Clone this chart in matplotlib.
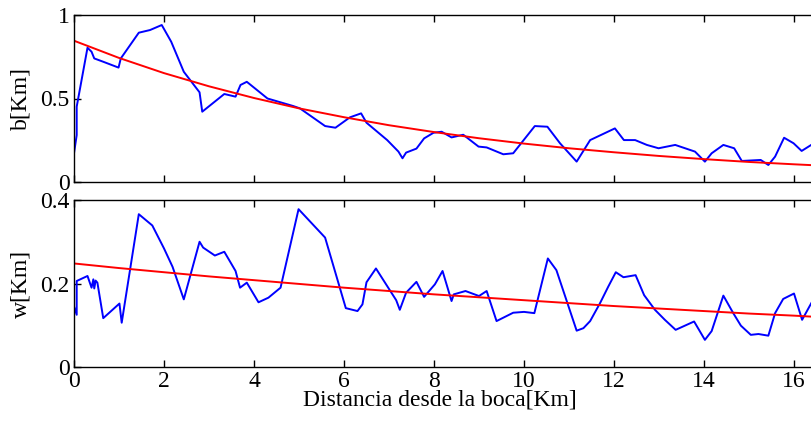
import matplotlib.pyplot as plt

plt.rcParams['font.family'] = ['Liberation Serif', 'DejaVu Serif']
plt.rcParams['font.size'] = 17

# ancho b medido a lo largo del rio
x_b = [0.0, 0.06, 0.06, 0.30, 0.39, 0.45, 0.65, 0.99, 1.04, 1.44, 1.69, 1.95,
       2.16, 2.44, 2.79, 2.85, 3.34, 3.59, 3.70, 3.84, 4.30, 4.87, 5.02, 5.58,
       5.81, 6.13, 6.38, 6.50, 6.96, 7.21, 7.30, 7.38, 7.61, 7.78, 7.99, 8.17,
       8.39, 8.65, 8.99, 9.17, 9.54, 9.76, 10.24, 10.52, 10.80, 11.17, 11.47,
       12.02, 12.22, 12.47, 12.73, 12.99, 13.36, 13.80, 14.02, 14.17, 14.43,
       14.67, 14.84, 15.26, 15.43, 15.58, 15.78, 15.99, 16.17, 16.40, 16.60]
b = [0.172, 0.281, 0.451, 0.804, 0.780, 0.740, 0.720, 0.685, 0.740, 0.894,
     0.910, 0.940, 0.840, 0.660, 0.537, 0.421, 0.527, 0.511, 0.581, 0.600,
     0.500, 0.455, 0.441, 0.335, 0.325, 0.387, 0.411, 0.355, 0.251, 0.182,
     0.142, 0.176, 0.200, 0.261, 0.295, 0.301, 0.267, 0.283, 0.212, 0.207,
     0.166, 0.172, 0.335, 0.331, 0.232, 0.122, 0.251, 0.321, 0.251, 0.251,
     0.222, 0.202, 0.222, 0.182, 0.122, 0.172, 0.222, 0.202, 0.126, 0.132,
     0.102, 0.152, 0.265, 0.232, 0.186, 0.225, 0.245]

# profundidad w
x_w = [0.0, 0.06, 0.06, 0.30, 0.39, 0.43, 0.45, 0.48, 0.52, 0.65, 1.01, 1.06,
       1.44, 1.74, 2.00, 2.19, 2.44, 2.79, 2.87, 3.13, 3.34, 3.59, 3.69, 3.84,
       4.10, 4.32, 4.59, 4.99, 5.58, 6.04, 6.30, 6.41, 6.50, 6.71, 7.16, 7.24,
       7.38, 7.61, 7.78, 8.02, 8.19, 8.39, 8.44, 8.70, 9.00, 9.17, 9.39, 9.76,
       10.00, 10.23, 10.53, 10.72, 11.17, 11.32, 11.47, 11.69, 11.87, 12.04,
       12.21, 12.48, 12.67, 12.91, 13.13, 13.37, 13.78, 14.02, 14.17, 14.43,
       14.65, 14.82, 15.04, 15.21, 15.43, 15.58, 15.76, 16.00, 16.18, 16.40,
       16.60]
w = [0.145, 0.125, 0.206, 0.218, 0.190, 0.210, 0.188, 0.207, 0.202, 0.117,
     0.152, 0.106, 0.366, 0.339, 0.284, 0.240, 0.162, 0.300, 0.286, 0.267,
     0.276, 0.230, 0.190, 0.202, 0.155, 0.166, 0.190, 0.378, 0.310, 0.141,
     0.134, 0.150, 0.203, 0.236, 0.160, 0.137, 0.178, 0.204, 0.168, 0.198,
     0.230, 0.158, 0.174, 0.182, 0.170, 0.182, 0.110, 0.130, 0.132, 0.129,
     0.260, 0.232, 0.087, 0.093, 0.110, 0.153, 0.192, 0.227, 0.215, 0.220,
     0.172, 0.137, 0.113, 0.089, 0.109, 0.065, 0.086, 0.171, 0.129, 0.099,
     0.077, 0.079, 0.075, 0.129, 0.163, 0.176, 0.113, 0.156, 0.185]

x_fit = list(range(0, 19))
b_fit = [0.846, 0.743, 0.652, 0.573, 0.503, 0.441, 0.388, 0.340, 0.299, 0.262,
         0.230, 0.202, 0.178, 0.156, 0.137, 0.120, 0.106, 0.093, 0.081]
w_fit = [0.248, 0.237, 0.227, 0.217, 0.208, 0.199, 0.190, 0.182, 0.174, 0.167,
         0.160, 0.153, 0.146, 0.140, 0.134, 0.128, 0.123, 0.117, 0.112]

xticks = list(range(0, 17, 2))

W, H = 812, 425
fig = plt.figure(figsize=(W / 100, H / 100), dpi=100)
left, right = 74, 884
ax1 = fig.add_axes([left / W, (H - 182) / H, (right - left) / W, 167 / H])
ax2 = fig.add_axes([left / W, (H - 367) / H, (right - left) / W, 167 / H])

ax1.plot(x_b, b, color='#0000ff', lw=1.4)
ax1.plot(x_fit, b_fit, color='#ff0000', lw=1.4)
ax2.plot(x_w, w, color='#0000ff', lw=1.4)
ax2.plot(x_fit, w_fit, color='#ff0000', lw=1.4)

ax1.set_ylim(0, 1)
ax1.set_yticks([0, 0.5, 1])
ax1.set_yticklabels(['0', '0.5', '1'])
ax2.set_ylim(0, 0.4)
ax2.set_yticks([0, 0.2, 0.4])
ax2.set_yticklabels(['0', '0.2', '0.4'])

for ax in (ax1, ax2):
    ax.set_xlim(0, 18)
    ax.set_xticks(xticks)
    ax.tick_params(direction='in', top=True, right=True, length=5, width=1,
                   pad=3)
    for s in ax.spines.values():
        s.set_linewidth(1)
ax1.set_xticklabels([])

ax1.set_ylabel('b[Km]')
ax1.yaxis.set_label_coords(-0.052, 0.5)
ax2.set_ylabel('w[Km]')
ax2.yaxis.set_label_coords(-0.052, 0.5)
ax2.set_xlabel('Distancia desde la boca[Km]')
ax2.xaxis.set_label_coords(0.452, -0.135)

fig.savefig('out.png', dpi=100)
